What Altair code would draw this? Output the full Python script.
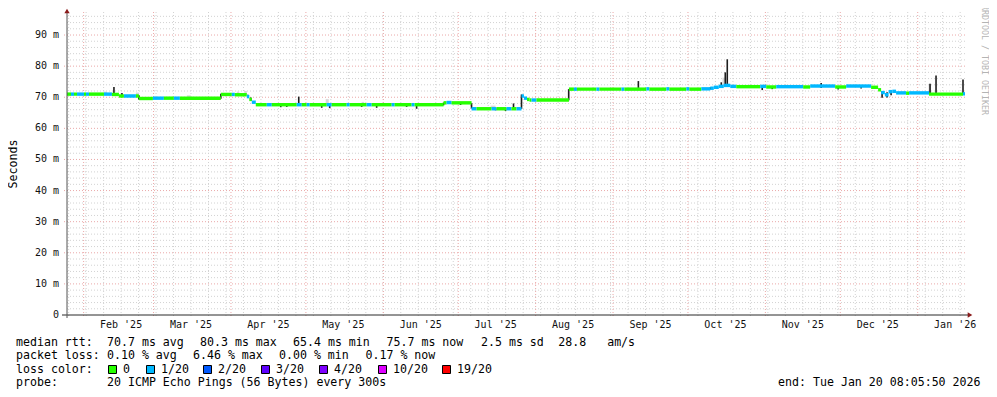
import altair as alt
import pandas as pd

FONT = "DejaVu Sans Mono"

# ---------------- time frame ----------------
END_STR = "2026-01-20T08:05:50Z"
SPAN_DAYS = 360
DAY_MS = 86400000

# ---------------- axis / grid definitions ----------------
y_major = [0, 10, 20, 30, 40, 50, 60, 70, 80, 90]
y_minor = [2, 4, 6, 8, 12, 14, 16, 18, 22, 24, 26, 28, 32, 34, 36, 38, 42, 44, 46, 48,
           52, 54, 56, 58, 62, 64, 66, 68, 72, 74, 76, 78, 82, 84, 86, 88, 92, 94, 96]
month_starts = ["2025-02-01", "2025-03-01", "2025-04-01", "2025-05-01", "2025-06-01",
                "2025-07-01", "2025-08-01", "2025-09-01", "2025-10-01", "2025-11-01",
                "2025-12-01", "2026-01-01"]
month_label_dates = ["2025-02-16", "2025-03-16", "2025-04-16", "2025-05-16", "2025-06-16",
                     "2025-07-16", "2025-08-16", "2025-09-16", "2025-10-16", "2025-11-16",
                     "2025-12-16", "2026-01-16"]
month_labels = ["Feb '25", "Mar '25", "Apr '25", "May '25", "Jun '25", "Jul '25",
                "Aug '25", "Sep '25", "Oct '25", "Nov '25", "Dec '25", "Jan '26"]

# ---------------- loss colours ----------------
loss_labels = ["0", "1/20", "2/20", "3/20", "4/20", "10/20", "19/20"]
loss_colors = ["#26ff00", "#00b8ff", "#0059ff", "#5e00ff", "#7e00ff", "#dd00ff", "#ff0000"]

# ---------------- median rtt runs (days since window start) ----------------
run_bp = [0, 1.6, 2.8, 4.0, 6.8, 7.6, 8.8, 14.8, 18.0, 20.8,
          22.8, 27.6, 28.8, 34.4, 38.8, 42.8, 45.2, 61.6, 66.0, 67.2,
          72.0, 73.0, 74.0, 75.6, 80.0, 82.0, 92.0, 94.0, 96.0, 97.2,
          104.0, 106.0, 112.0, 113.2, 120.0, 122.0, 130.0, 131.2, 138.0, 139.2,
          150.8, 152.0, 154.0, 162.0, 164.0, 170.0, 172.0, 176.0, 178.0, 180.0,
          182.0, 183.0, 184.2, 185.2, 186.0, 188.0, 201.0, 203.0, 204.2, 212.0,
          213.2, 222.0, 223.2, 232.0, 233.2, 240.0, 241.2, 248.0, 249.2, 254.0,
          257.6, 259.0, 261.0, 263.0, 265.6, 268.0, 277.6, 280.0, 284.0, 294.8,
          297.6, 307.6, 312.0, 322.0, 324.8, 326.0, 327.5, 329.0, 330.5, 332.0,
          336.0, 337.2, 345.2, 358.8, 359.6]
run_med = [71.0, 71.0, 71.0, 71.0, 71.0, 71.0, 71.0, 71.0, 70.9, 70.4,
           70.4, 70.4, 69.6, 69.7, 69.7, 69.7, 69.7, 70.9, 70.9, 70.8,
           70.2, 69.3, 68.4, 67.6, 67.6, 67.6, 67.6, 67.6, 67.6, 67.6,
           67.6, 67.6, 67.6, 67.6, 67.6, 67.6, 67.6, 67.6, 67.6, 67.6,
           68.2, 68.3, 68.2, 66.3, 66.3, 66.3, 66.3, 66.3, 66.3, 66.3,
           70.4, 69.7, 69.3, 69.1, 69.1, 69.1, 72.6, 72.6, 72.6, 72.6,
           72.6, 72.6, 72.6, 72.7, 72.6, 72.7, 72.6, 72.7, 72.6, 72.7,
           72.9, 73.2, 73.5, 73.8, 73.5, 73.4, 73.5, 73.3, 73.4, 73.3,
           73.6, 73.3, 73.6, 73.2, 72.4, 71.5, 70.8, 71.8, 71.9, 71.4,
           71.3, 71.4, 71.0, 71.1]
run_loss = [0, 1, 0, 1, 0, 1, 0, 1, 0, 0,
            1, 0, 0, 1, 0, 1, 0, 0, 1, 0,
            1, 0, 1, 0, 1, 0, 1, 0, 1, 0,
            1, 0, 1, 0, 1, 0, 1, 0, 1, 0,
            0, 1, 0, 1, 0, 1, 0, 1, 0, 1,
            1, 1, 0, 0, 1, 0, 0, 1, 0, 1,
            0, 1, 0, 1, 0, 1, 0, 1, 0, 1,
            1, 1, 1, 1, 1, 0, 1, 0, 1, 0,
            1, 0, 1, 0, 0, 1, 1, 1, 1, 1,
            0, 1, 0, 1]
assert len(run_bp) == len(run_med) + 1 == len(run_loss) + 1

# ---------------- dark smoke spikes (day, low ms, high ms) ----------------
spike_day = [18.8, 22.0, 28.8, 61.6, 72.4, 73.6, 85.6, 88.0, 92.8, 102.0,
             105.2, 118.0, 124.0, 136.0, 140.0, 150.8, 157.6, 162.0, 171.6, 175.6,
             178.8, 182.0, 200.9, 228.8, 257.6, 262.0, 263.6, 264.4, 278.4, 282.4,
             302.0, 308.8, 318.0, 326.4, 328.4, 330.0, 345.6, 348.0, 358.8]
spike_lo = [70.6, 70.0, 69.3, 69.5, 69.8, 68.8, 66.8, 66.9, 67.2, 66.6,
            66.5, 66.9, 66.6, 66.9, 66.3, 67.4, 67.5, 66.4, 65.8, 65.6,
            66.3, 66.3, 69.0, 72.3, 72.5, 73.0, 73.4, 73.3, 72.3, 72.6,
            73.0, 72.5, 72.8, 69.8, 69.9, 70.6, 71.2, 71.0, 71.0]
spike_hi = [73.3, 71.4, 70.6, 71.1, 70.8, 69.9, 67.6, 67.6, 70.2, 67.6,
            67.6, 67.6, 67.6, 67.6, 67.6, 68.3, 68.2, 68.1, 66.5, 66.5,
            68.0, 70.9, 72.6, 75.2, 73.2, 74.8, 78.0, 82.2, 73.3, 73.3,
            74.6, 73.4, 73.5, 72.0, 71.6, 71.8, 74.3, 77.0, 75.7]

# ---------------- light smoke (day0, day1, low, high) ----------------
smoke_d0 = [14.8, 27.6, 48.0, 68.0, 71.0, 103.6, 118.0, 169.6, 262.5, 345.0]
smoke_d1 = [16.0, 28.8, 49.6, 69.0, 72.0, 104.8, 119.0, 171.6, 264.0, 346.0]
smoke_lo = [70.8, 70.3, 69.6, 70.8, 70.8, 67.6, 67.6, 66.3, 73.5, 71.2]
smoke_hi = [71.8, 71.5, 70.6, 71.8, 72.0, 69.4, 68.5, 67.3, 76.3, 74.3]

# ---------------- legend texts ----------------
rtt_items = ["median rtt:", "70.7 ms avg", "80.3 ms max", "65.4 ms min", "75.7 ms now",
             "2.5 ms sd", "28.8   am/s"]
loss_items = ["packet loss:", "0.10 % avg", "6.46 % max", "0.00 % min", "0.17 % now"]
probe_items = ["probe:", "20 ICMP Echo Pings (56 Bytes) every 300s"]
end_text = "end: Tue Jan 20 08:05:50 2026"

# ---------------- derived tables ----------------
end_ms = int(pd.Timestamp(END_STR).value // 10**6)
start_ms = end_ms - SPAN_DAYS * DAY_MS


def to_ms(dates):
    return [int(v // 10**6) for v in pd.to_datetime(dates, utc=True).asi8]


def day_ms(d):
    return start_ms + d * DAY_MS


week_starts = to_ms(pd.date_range("2025-01-26", "2026-01-18", freq="W-SUN", tz="UTC"))

runs = pd.DataFrame({
    "t0": [day_ms(d) for d in run_bp[:-1]],
    "t1": [day_ms(d) for d in run_bp[1:]],
    "lo": [m - 0.55 for m in run_med],
    "hi": [m + 0.55 for m in run_med],
    "loss": [loss_labels[i] for i in run_loss],
})
spikes = pd.DataFrame({"t": [day_ms(d) for d in spike_day], "lo": spike_lo, "hi": spike_hi})
smoke = pd.DataFrame({"t0": [day_ms(d) for d in smoke_d0], "t1": [day_ms(d) for d in smoke_d1],
                      "lo": smoke_lo, "hi": smoke_hi})
ymaj = pd.DataFrame({"v": y_major, "lab": [("0" if v == 0 else f"{v} m") for v in y_major]})
ymin = pd.DataFrame({"v": y_minor})
mon = pd.DataFrame({"t": to_ms(month_starts)})
wk = pd.DataFrame({"t": week_starts})
mlab = pd.DataFrame({"t": to_ms(month_label_dates), "lab": month_labels})
dummy = pd.DataFrame({"a": [0]})

xs = alt.Scale(type="utc", domain=[start_ms, end_ms], nice=False)
ys = alt.Scale(domain=[0, 97.4], nice=False, zero=False)

GRID = "#d2d2d2"
MGRID = "#eaa8a8"
ARROW = "#8b1c1c"
AXIS = "#2a2a2a"

layers = []
# minor grid
layers.append(alt.Chart(ymin).mark_rule(color=GRID, strokeWidth=1, strokeDash=[1, 2]).encode(
    y=alt.Y("v:Q", scale=ys, axis=None), x=alt.value(0), x2=alt.value(900)))
layers.append(alt.Chart(wk).mark_rule(color=GRID, strokeWidth=1, strokeDash=[1, 2]).encode(
    x=alt.X("t:T", scale=xs, axis=None), y=alt.value(0), y2=alt.value(306)))
# major grid
layers.append(alt.Chart(ymaj[ymaj.v > 0]).mark_rule(color=MGRID, strokeWidth=1, strokeDash=[1, 2]).encode(
    y=alt.Y("v:Q", scale=ys, axis=None), x=alt.value(-3), x2=alt.value(900)))
layers.append(alt.Chart(mon).mark_rule(color=MGRID, strokeWidth=1, strokeDash=[1, 2]).encode(
    x=alt.X("t:T", scale=xs, axis=None), y=alt.value(0), y2=alt.value(306)))
# smoke
layers.append(alt.Chart(smoke).mark_rect(color="#d8d8d8").encode(
    x=alt.X("t0:T", scale=xs, axis=None), x2="t1:T",
    y=alt.Y("lo:Q", scale=ys, axis=None), y2="hi:Q"))
# spikes
layers.append(alt.Chart(spikes).mark_rule(color="#1e1e1e", strokeWidth=1.6).encode(
    x=alt.X("t:T", scale=xs, axis=None), y=alt.Y("lo:Q", scale=ys, axis=None), y2="hi:Q"))
# median line coloured by loss
layers.append(alt.Chart(runs).mark_rect().encode(
    x=alt.X("t0:T", scale=xs, axis=None), x2="t1:T",
    y=alt.Y("lo:Q", scale=ys, axis=None), y2="hi:Q",
    color=alt.Color("loss:N", scale=alt.Scale(domain=loss_labels, range=loss_colors), legend=None)))
# axes lines
layers.append(alt.Chart(dummy).mark_rule(color=AXIS, strokeWidth=1).encode(
    x=alt.value(-5), x2=alt.value(902), y=alt.value(303)))
layers.append(alt.Chart(dummy).mark_rule(color="#555555", strokeWidth=1).encode(
    x=alt.value(0), y=alt.value(0), y2=alt.value(306)))
layers.append(alt.Chart(dummy).mark_point(shape="triangle-right", filled=True, size=28, color=ARROW, opacity=1).encode(
    x=alt.value(903), y=alt.value(303)))
layers.append(alt.Chart(dummy).mark_point(shape="triangle-up", filled=True, size=28, color=ARROW, opacity=1).encode(
    x=alt.value(0), y=alt.value(-1)))
# y labels
layers.append(alt.Chart(ymaj).mark_text(align="right", baseline="middle", font=FONT, fontSize=10, color="#111").encode(
    y=alt.Y("v:Q", scale=ys, axis=None), x=alt.value(-8), text="lab:N"))
# x labels
layers.append(alt.Chart(mlab).mark_text(align="center", baseline="alphabetic", font=FONT, fontSize=10, color="#111").encode(
    x=alt.X("t:T", scale=xs, axis=None), y=alt.value(316.3), text="lab:N"))


def txt(s, px, py, size=11.6, align="left", color="#000000", angle=0, baseline="alphabetic"):
    return alt.Chart(dummy).mark_text(
        text=s.replace(" ", "\u00a0"), align=align, baseline=baseline, font=FONT,
        fontSize=size, color=color, angle=angle).encode(x=alt.value(px), y=alt.value(py))


OX = 67  # page x of plot origin
OY = 12  # page y of plot origin

layers.append(txt("Seconds", 13.5 - OX, 164 - OY, angle=270, align="center", baseline="middle"))
layers.append(txt("RRDTOOL / TOBI OETIKER", 984 - OX, 60 - OY, size=8.3, angle=90,
                  align="center", baseline="middle", color="#b4b4b4"))

rtt_x = [16, 107, 200, 293, 386.5, 481, 558.3]
for s, px in zip(rtt_items, rtt_x):
    layers.append(txt(s, px - OX, 346 - OY))
loss_x = [16, 107, 193, 279, 365.5]
for s, px in zip(loss_items, loss_x):
    layers.append(txt(s, px - OX, 359.4 - OY))
layers.append(txt("loss color:", 16 - OX, 372.8 - OY))
box_x = [108, 146, 203, 261, 319, 378, 442]
for lab, col, bx in zip(loss_labels, loss_colors, box_x):
    layers.append(alt.Chart(dummy).mark_rect(stroke="#000000", strokeWidth=1).encode(
        x=alt.value(bx - OX + 0.5), x2=alt.value(bx - OX + 8.5),
        y=alt.value(365 - OY + 0.5), y2=alt.value(373 - OY + 0.5), color=alt.value(col)))
    layers.append(txt(lab, bx + 15 - OX, 372.8 - OY))
probe_x = [16, 107]
for s, px in zip(probe_items, probe_x):
    layers.append(txt(s, px - OX, 386.3 - OY))
layers.append(txt(end_text, 980.5 - OX, 386.3 - OY, align="right"))

chart = alt.layer(*layers).properties(
    width=899, height=303,
    padding={"left": 59, "top": 4, "right": 23, "bottom": 76},
    autosize=alt.AutoSizeParams(type="none"),
    background="white",
).configure_view(stroke=None)

chart.save("out.html", embed_options={"renderer": "svg", "actions": False})
